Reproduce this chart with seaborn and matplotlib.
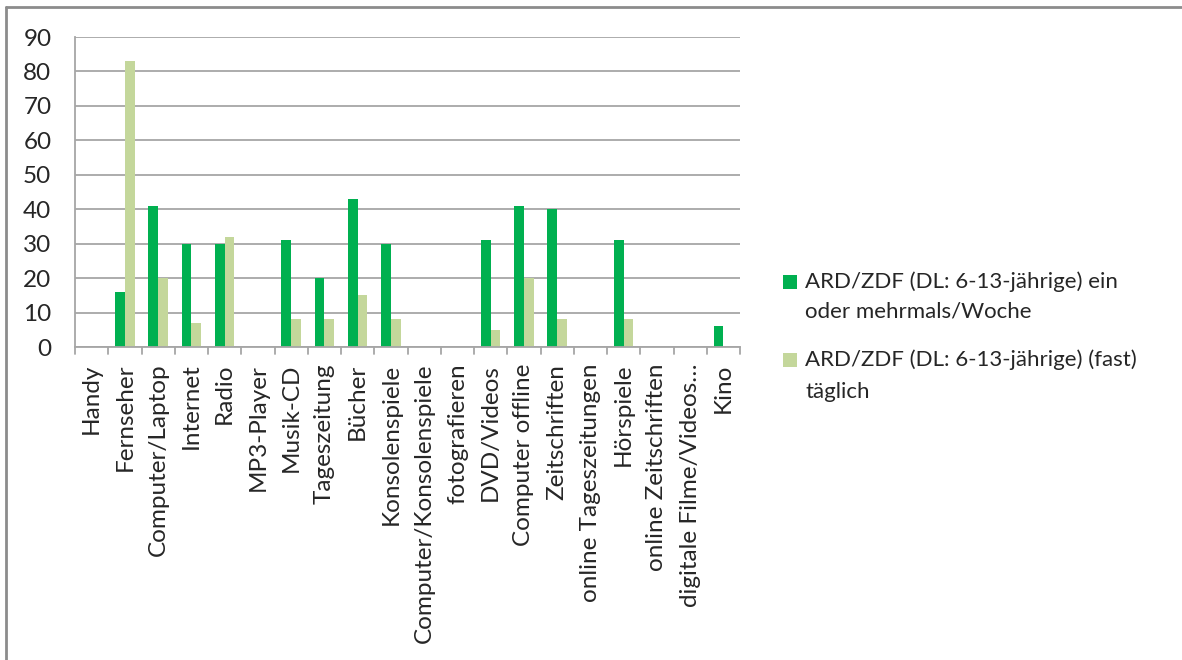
import matplotlib
matplotlib.use("Agg")
import matplotlib.pyplot as plt
from matplotlib.lines import Line2D
from matplotlib.patches import Rectangle
import seaborn as sns
import pandas as pd

categories = [
    "Handy", "Fernseher", "Computer/Laptop", "Internet", "Radio", "MP3-Player",
    "Musik-CD", "Tageszeitung", "Bücher", "Konsolenspiele",
    "Computer/Konsolenspiele", "fotografieren", "DVD/Videos", "Computer offline",
    "Zeitschriften", "online Tageszeitungen", "Hörspiele", "online Zeitschriften",
    "digitale Filme/Videos…", "Kino",
]
weekly = [0, 16, 41, 30, 30, 0, 31, 20, 43, 30, 0, 0, 31, 41, 40, 0, 31, 0, 0, 6]
daily = [0, 83, 20, 7, 32, 0, 8, 8, 15, 8, 0, 0, 5, 20, 8, 0, 8, 0, 0, 0]
series_names = [
    "ARD/ZDF (DL: 6-13-jährige) ein\noder mehrmals/Woche",
    "ARD/ZDF (DL: 6-13-jährige) (fast)\ntäglich",
]
colors = ["#00B050", "#C4D79B"]
y_ticks = [0, 10, 20, 30, 40, 50, 60, 70, 80, 90]

df = pd.DataFrame({
    "Kategorie": categories * 2,
    "Wert": weekly + daily,
    "Reihe": [series_names[0]] * len(categories) + [series_names[1]] * len(categories),
})

sns.set_style("white")
plt.rcParams["font.family"] = ["Lato", "DejaVu Sans"]

W, H = 1182, 660
fig = plt.figure(figsize=(W / 100, H / 100), dpi=100)
ax = fig.add_axes([75 / W, 1 - 347 / H, (740 - 75) / W, (347 - 37) / H])

sns.barplot(data=df, x="Kategorie", y="Wert", hue="Reihe", order=categories,
            hue_order=series_names, palette=colors, width=0.58, gap=0,
            saturation=1, ax=ax, legend=False, linewidth=0)

ax.set_xlim(-0.5, len(categories) - 0.5)
ax.set_ylim(0, 90)
ax.set_yticks(y_ticks)
ax.set_xlabel("")
ax.set_ylabel("")
ax.grid(axis="y", color="#A6A6A6", linewidth=1.3)
ax.set_axisbelow(True)
for side in ["top", "right"]:
    ax.spines[side].set_visible(False)
for side in ["left", "bottom"]:
    ax.spines[side].set_color("#A6A6A6")
    ax.spines[side].set_linewidth(1.3)

text_color = "#262626"
ax.tick_params(axis="y", labelsize=17.5, colors=text_color, length=0, pad=17)
ax.set_xticks(range(len(categories)))
ax.set_xticklabels(categories, rotation=90, fontsize=17.5, color=text_color)
ax.tick_params(axis="x", length=0, pad=12)

# category separators hanging below the baseline
for i in range(len(categories) + 1):
    ax.plot([i - 0.5, i - 0.5], [0, -2.0], color="#A6A6A6", linewidth=1.3,
            clip_on=False, zorder=3)

# legend: square marker next to the first line of each two-line label
legend_rows = [(282, 30), (360, 32)]
for name, color, (y_first, step) in zip(series_names, colors, legend_rows):
    fig.patches.append(Rectangle((783 / W, 1 - (y_first + 7) / H), 14 / W, 14 / H,
                                 transform=fig.transFigure, facecolor=color,
                                 edgecolor="none"))
    for k, line in enumerate(name.split("\n")):
        fig.text(805 / W, 1 - (y_first + k * step) / H, line, fontsize=16,
                 color=text_color, va="center", ha="left")

# outer frame
fig.add_artist(Line2D([6 / W, 1], [1 - 7 / H, 1 - 7 / H],
                      transform=fig.transFigure, color="#8C8C8C", linewidth=2))
fig.add_artist(Line2D([6 / W, 6 / W], [0, 1 - 7 / H],
                      transform=fig.transFigure, color="#8C8C8C", linewidth=2))

fig.savefig("out.png", dpi=100, facecolor="white")
